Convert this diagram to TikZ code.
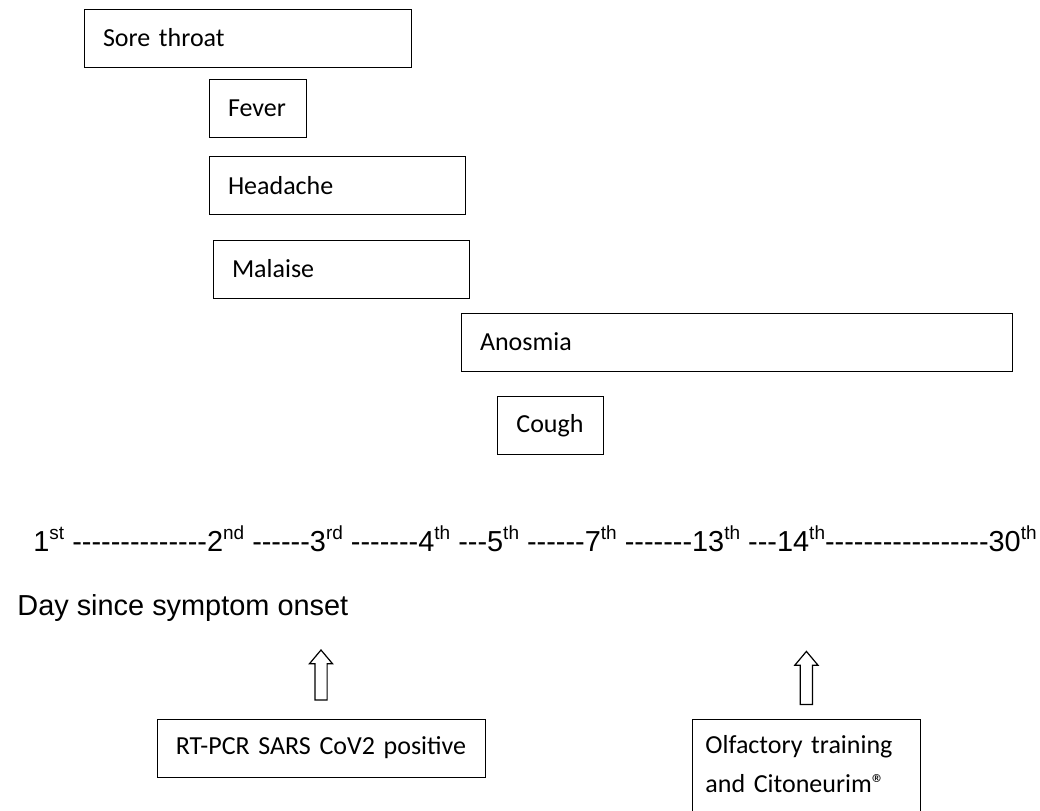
\documentclass[tikz,border=0pt]{standalone}
\usepackage{fontspec}
\newfontfamily\calfont[WordSpace=0.8]{Carlito}
\newfontfamily\arialfont[Ligatures=TeXOff]{Liberation Sans}
\usetikzlibrary{shapes.arrows, positioning}
\tikzstyle{symptom} = [rectangle, draw=black, thin, minimum height=29pt, inner xsep=9.5pt, align=left, font=\calfont\fontsize{13}{15.6}\selectfont]
\tikzstyle{result} = [rectangle, draw=black, thin, inner xsep=6.5pt, inner ysep=6pt, font=\calfont\fontsize{13}{19.5}\selectfont]
\tikzstyle{uparrow} = [single arrow, draw=black, line width=0.6pt, shape border rotate=90, single arrow head extend=2.75pt, single arrow tip angle=80, inner sep=2.75pt]
\tikzstyle{daytext} = [font=\arialfont\fontsize{14.45}{17}\selectfont, inner sep=0pt, anchor=base west]
\newcommand{\daysup}[1]{\raisebox{6pt}{\fontsize{9.5}{10}\selectfont #1}}

\begin{document}
\begin{tikzpicture}[node distance=38.75pt]
    \useasboundingbox (0,0) rectangle (520pt,-405pt);
    \node (SoreThroat) [symptom, text width=144.5pt] at (123.75pt,-19pt) {Sore throat};
    \node (Fever) [symptom, text width=29.5pt, below of = SoreThroat, xshift = 5pt, yshift = 3.75pt] {Fever};
    \node (Headache) [symptom, text width=109pt, below of = Fever, xshift = 39.75pt] {Headache};
    \node (Malaise) [symptom, text width=109pt, below of = Headache, xshift = 2pt, yshift = -3pt] {Malaise};
    \node (Anosmia) [symptom, text width=256.5pt, below of = Malaise, xshift = 197.75pt, yshift = 2.25pt] {Anosmia};
    \node (Cough) [symptom, text width=34pt, align=center, below of = Anosmia, xshift = -93.25pt, yshift = -3pt] {Cough};
    \node (Days) [daytext] at (16.5pt,-275.5pt) {1\daysup{st} --------------2\daysup{nd} ------3\daysup{rd} -------4\daysup{th} ---5\daysup{th} ------7\daysup{th} -------13\daysup{th} ---14\daysup{th}-----------------30\daysup{th}};
    \node (DayLabel) [daytext] at (8.5pt,-307.5pt) {Day since symptom onset};
    \node (Pcr) [result, text width=151pt, align=center, minimum height=29pt] at (160.5pt,-374pt) {RT-PCR SARS CoV2 positive};
    \node (Olfactory) [result, text width=101pt, align=left, anchor=north west, inner ysep=8pt, text depth=32pt] at (346pt,-359.5pt) {Olfactory training\\and Citoneurim®};
    \node (PcrArrow) [uparrow, minimum height=25pt, above = 9pt of Pcr] {};
    \node (OlfArrow) [uparrow, minimum height=26.5pt, above = 7pt of Olfactory] {};
\end{tikzpicture}
\end{document}
